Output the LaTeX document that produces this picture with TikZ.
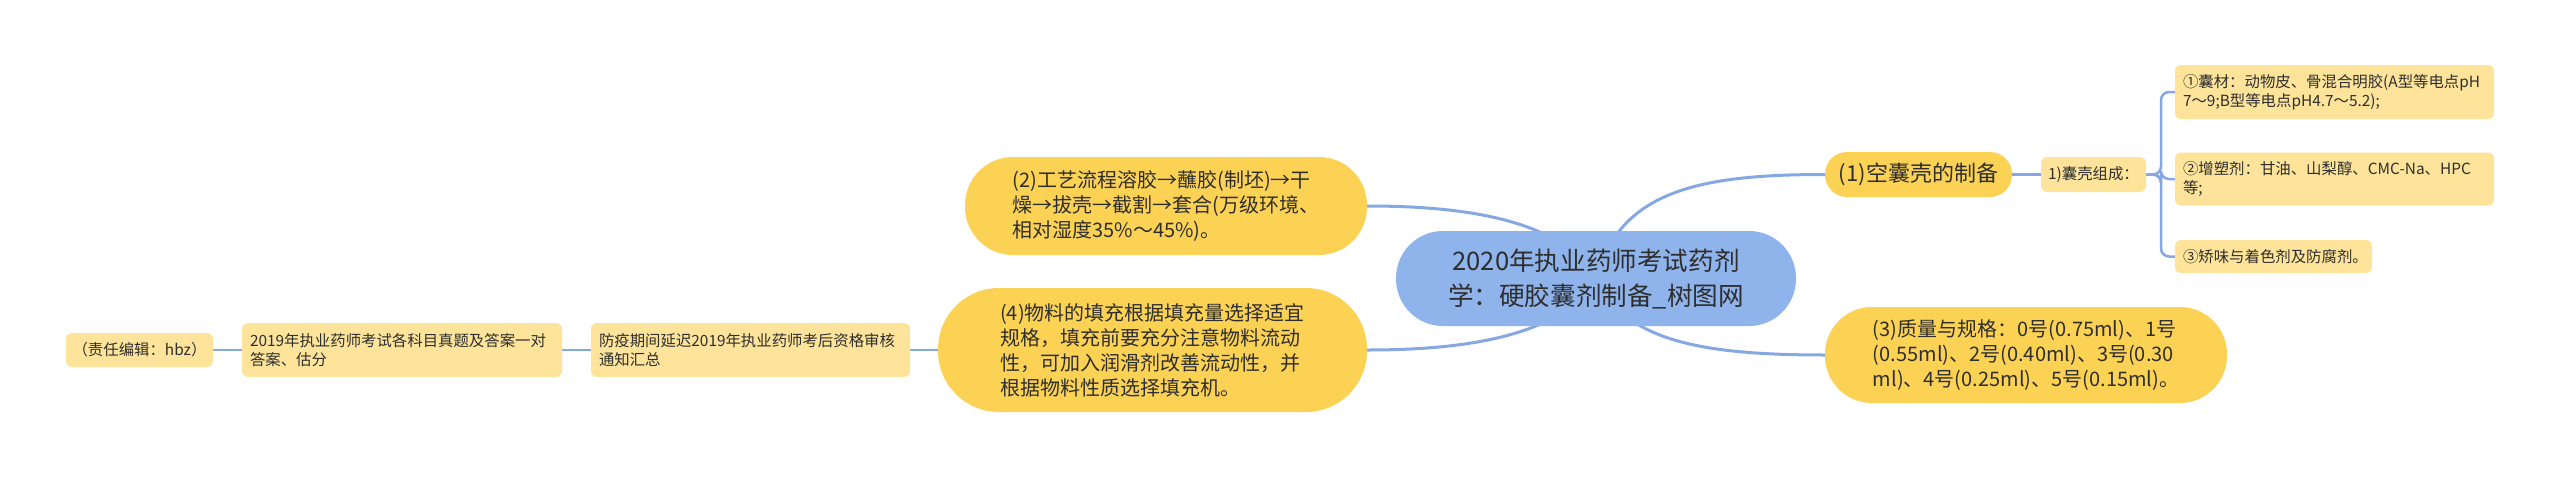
\documentclass[tikz,border=0pt]{standalone}
\usepackage{fontspec}
\setmainfont{Noto Sans CJK SC}
\usetikzlibrary{backgrounds}
\definecolor{cblue}{HTML}{8FB4EC}
\definecolor{cgold}{HTML}{FCD255}
\definecolor{cleaf}{HTML}{FDE49A}
\definecolor{cline}{HTML}{86A8E2}
\definecolor{ctext}{HTML}{2E2E2E}
\begin{document}
\begin{tikzpicture}[x=1pt,y=-1pt,
  every node/.style={inner sep=0pt, text=ctext},
  root/.style={fill=cblue, rounded corners=47pt, minimum width=400pt, minimum height=95pt, align=center, font=\fontsize{25.6}{35}\selectfont},
  branch/.style={fill=cgold, align=left, font=\fontsize{20}{25}\selectfont},
  leafbox/.style={fill=cleaf, rounded corners=6pt, align=left, font=\fontsize{15.4}{19}\selectfont},
  leafw/.style={leafbox, inner xsep=8pt, text width=#1},
  conn/.style={draw=cline, line width=2.5pt},
  mainconn/.style={draw=cline, line width=3pt}
]
\useasboundingbox (0,0) rectangle (2560,477);

\node[root] (c) at (1596,278.5) {2020年执业药师考试药剂\\学：硬胶囊剂制备\_树图网};

\node[branch, font=\fontsize{22}{26}\selectfont, minimum width=187pt, minimum height=45pt, rounded corners=22pt] (n1) at (1918.5,174.5) {(1)空囊壳的制备};
\node[leafbox, minimum width=105pt, minimum height=35pt] (n11) at (2093.5,174.5) {1)囊壳组成：};
\node[leafw=303pt, minimum height=54pt] (l1) at (2334.5,92) {①囊材：动物皮、骨混合明胶(A型等电点pH\\7～9;B型等电点pH4.7～5.2);};
\node[leafw=303pt, minimum height=53pt] (l2) at (2334.5,179) {②增塑剂：甘油、山梨醇、CMC-Na、HPC\\等;};
\node[leafw=181pt, minimum height=33pt] (l3) at (2273.5,256.5) {③矫味与着色剂及防腐剂。};
\coordinate (j) at (2161,174.5);

\node[branch, minimum width=402pt, minimum height=96pt, rounded corners=47pt] (n3) at (2026,355) {(3)质量与规格：0号(0.75ml)、1号\\(0.55ml)、2号(0.40ml)、3号(0.30\\ml)、4号(0.25ml)、5号(0.15ml)。};

\node[branch, minimum width=402pt, minimum height=98pt, rounded corners=48pt] (n2) at (1166,206) {(2)工艺流程溶胶→蘸胶(制坯)→干\\燥→拔壳→截割→套合(万级环境、\\相对湿度35\%～45\%)。};

\node[branch, minimum width=429pt, minimum height=124pt, rounded corners=61pt] (n4) at (1152.5,350) {(4)物料的填充根据填充量选择适宜\\规格，填充前要充分注意物料流动\\性，可加入润滑剂改善流动性，并\\根据物料性质选择填充机。};
\node[leafw=303pt, minimum height=54pt] (n41) at (750.5,350) {防疫期间延迟2019年执业药师考后资格审核\\通知汇总};
\node[leafw=304pt, minimum height=54pt] (n42) at (402,350) {2019年执业药师考试各科目真题及答案一对\\答案、估分};
\node[leafbox, minimum width=147pt, minimum height=34pt] (n43) at (139.5,350) {（责任编辑：hbz）};

\begin{pgfonlayer}{background}
\fill[white] (0,0) rectangle (2560,477);
\draw[mainconn] (c.center) .. controls +(24,-88) and +(-125,0) .. (n1.west);
\draw[mainconn] (c.center) .. controls +(29,62) and +(-125,0) .. (n3.west);
\draw[mainconn] (c.center) .. controls +(-36,-63) and +(83,0) .. (n2.east);
\draw[mainconn] (c.center) .. controls +(-36,62) and +(83,0) .. (n4.east);
\draw[conn] (n1.east) -- (n11.west);
\draw[conn, rounded corners=8pt] (n11.east) -- (j) |- (l1.west);
\draw[conn, rounded corners=8pt] (n11.east) -- (j) |- (l2.west);
\draw[conn, rounded corners=8pt] (n11.east) -- (j) |- (l3.west);
\draw[conn] (n4.west) -- (n41.east);
\draw[conn] (n41.west) -- (n42.east);
\draw[conn] (n42.west) -- (n43.east);
\end{pgfonlayer}
\end{tikzpicture}
\end{document}
